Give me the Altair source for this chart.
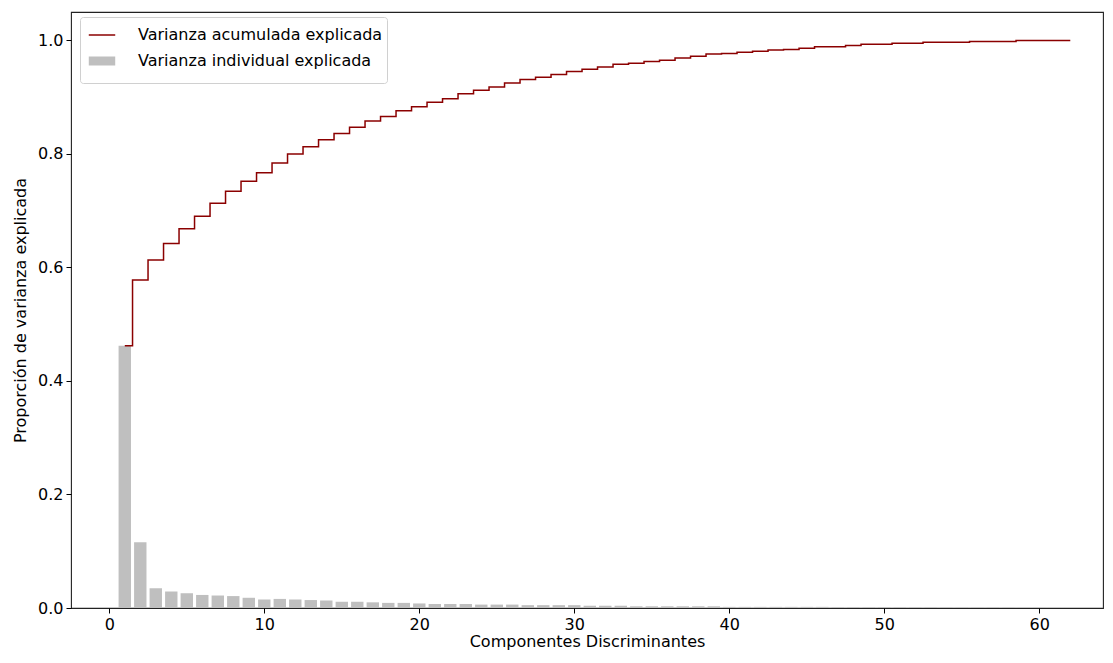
import altair as alt
import pandas as pd

componentes = list(range(1, 63))

varianza_individual = [
    0.462, 0.116, 0.035, 0.029, 0.026, 0.023, 0.022, 0.021, 0.018, 0.015,
    0.016, 0.015, 0.014, 0.013, 0.011, 0.011, 0.010, 0.009, 0.009, 0.008,
    0.007, 0.007, 0.007, 0.006, 0.006, 0.006, 0.005, 0.005, 0.005, 0.005,
    0.004, 0.004, 0.004, 0.003, 0.003, 0.003, 0.003, 0.003, 0.003, 0.002,
    0.002, 0.002, 0.002, 0.002, 0.002, 0.002, 0.0018, 0.0017, 0.0016, 0.0015,
    0.0014, 0.0013, 0.0012, 0.0011, 0.0010, 0.0010, 0.0009, 0.0008, 0.0004, 0.0003,
    0.0002, 0.0001,
]

varianza_acumulada = [
    0.462, 0.578, 0.613, 0.642, 0.668, 0.690, 0.713, 0.734, 0.752, 0.767,
    0.784, 0.800, 0.8125, 0.825, 0.836, 0.847, 0.858, 0.866, 0.876, 0.883,
    0.891, 0.897, 0.906, 0.912, 0.918, 0.925, 0.931, 0.935, 0.940, 0.945,
    0.949, 0.953, 0.958, 0.9595, 0.963, 0.965, 0.969, 0.972, 0.976, 0.977,
    0.979, 0.981, 0.983, 0.984, 0.986, 0.989, 0.989, 0.991, 0.993, 0.993,
    0.995, 0.995, 0.9965, 0.9965, 0.9965, 0.998, 0.998, 0.998, 1.0, 1.0,
    1.0, 1.0,
]

serie_acum = "Varianza acumulada explicada"
serie_indiv = "Varianza individual explicada"

df_bar = pd.DataFrame({"comp": componentes, "valor": varianza_individual, "serie": serie_indiv})
df_line = pd.DataFrame({"comp": componentes, "valor": varianza_acumulada, "serie": serie_acum})

FONT = "DejaVu Sans"
FS = 16

x_scale = alt.Scale(domain=[-2.47, 64.11], nice=False, zero=False)
y_scale = alt.Scale(domain=[0, 1.05], nice=False, zero=False)

color_scale = alt.Scale(domain=[serie_acum, serie_indiv], range=["#8b0000", "#bfbfbf"])
width_scale = alt.Scale(domain=[serie_acum, serie_indiv], range=[1.5, 9])

legend = alt.Legend(
    title=None,
    orient="none",
    legendX=9,
    legendY=5,
    symbolType="stroke",
    symbolSize=700,
    labelFont=FONT,
    labelFontSize=FS,
    labelColor="black",
    labelLimit=500,
    labelOffset=18,
    fillColor="white",
    strokeColor="#d0d0d0",
    cornerRadius=3,
    padding=4,
    rowPadding=0,
)

x_axis = alt.Axis(
    values=[0, 10, 20, 30, 40, 50, 60],
    title="Componentes Discriminantes",
    grid=False,
    domain=False,
    tickColor="black",
    tickSize=5,
    tickWidth=1,
    labelPadding=3,
    labelFont=FONT,
    labelFontSize=FS,
    labelColor="black",
    titleFont=FONT,
    titleFontSize=FS,
    titleFontWeight="normal",
    titleColor="black",
    titlePadding=1,
)

y_axis = alt.Axis(
    values=[0, 0.2, 0.4, 0.6, 0.8, 1.0],
    format=".1f",
    title="Proporción de varianza explicada",
    grid=False,
    domain=False,
    tickColor="black",
    tickSize=5,
    tickWidth=1,
    labelPadding=3,
    labelFont=FONT,
    labelFontSize=FS,
    labelColor="black",
    titleFont=FONT,
    titleFontSize=FS,
    titleFontWeight="normal",
    titleColor="black",
    titlePadding=9,
)

bars = alt.Chart(df_bar).transform_calculate(
    x1="datum.comp - 0.4", x2="datum.comp + 0.4"
).mark_bar().encode(
    x=alt.X("x1:Q", scale=x_scale, axis=x_axis),
    x2="x2:Q",
    y=alt.Y("valor:Q", scale=y_scale, axis=y_axis),
    y2=alt.datum(0),
    color=alt.Color("serie:N", scale=color_scale, legend=legend),
)

line = alt.Chart(df_line).mark_line(interpolate="step").encode(
    x=alt.X("comp:Q", scale=x_scale),
    y=alt.Y("valor:Q", scale=y_scale),
    color=alt.Color("serie:N", scale=color_scale, legend=legend),
    strokeWidth=alt.StrokeWidth("serie:N", scale=width_scale, legend=legend),
)

chart = alt.layer(bars, line).properties(
    width=1032,
    height=596,
    background="white",
    autosize=alt.AutoSizeParams(type="none"),
    padding={"left": 63, "top": 4, "right": 2, "bottom": 42},
).configure_view(
    stroke="#222222", strokeWidth=1.1
)

chart.save("out.html", embed_options={"renderer": "svg", "actions": False})
